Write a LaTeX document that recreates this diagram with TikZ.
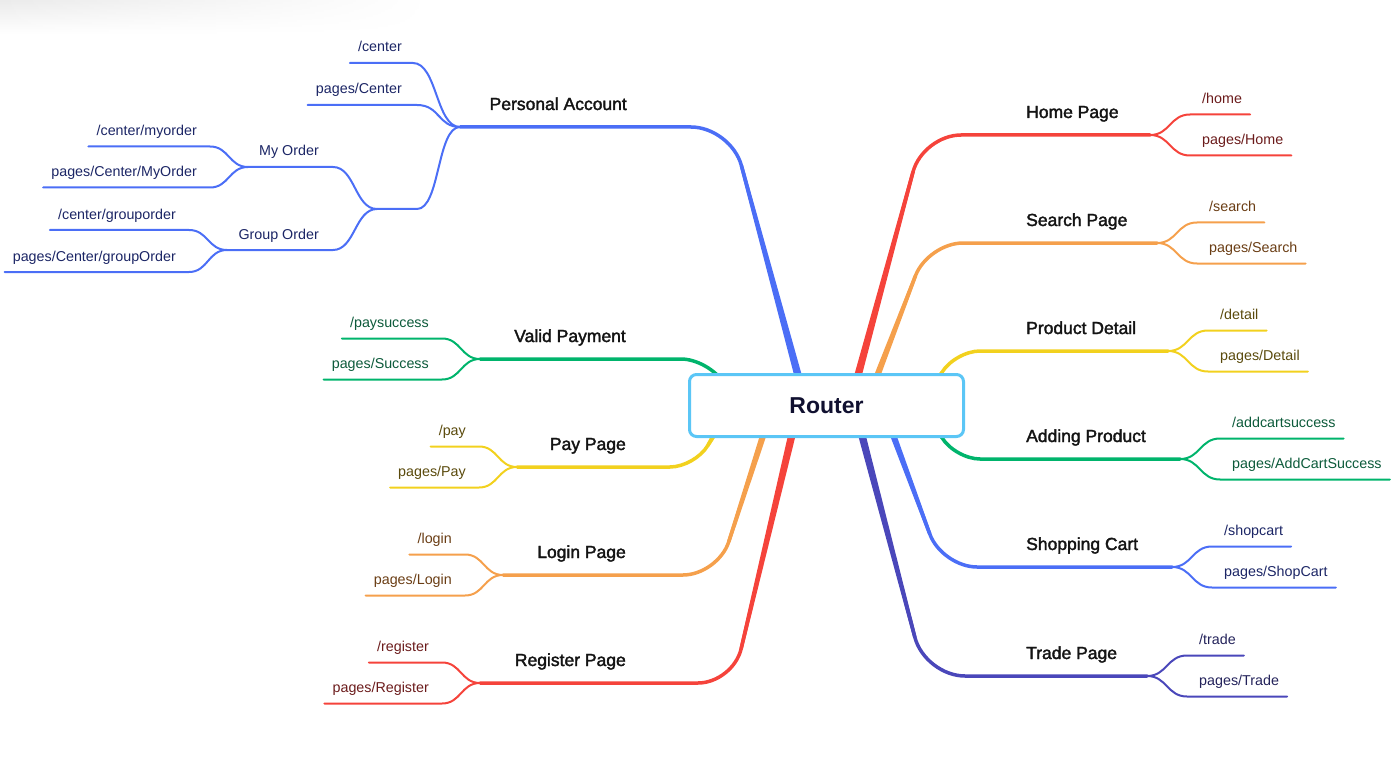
\documentclass[tikz,border=0pt]{standalone}
\usepackage{fontspec}
\setmainfont{Liberation Sans}
\newfontfamily\labelfont[FakeBold=2]{Liberation Sans}
\usetikzlibrary{calc,backgrounds,fadings}

\definecolor{cBlue}{HTML}{4B6EF6}
\definecolor{cGreen}{HTML}{00B46C}
\definecolor{cYellow}{HTML}{F2D11E}
\definecolor{cOrange}{HTML}{F5A04C}
\definecolor{cRed}{HTML}{F5433B}
\definecolor{cIndigo}{HTML}{4A47BA}
\definecolor{cRoot}{HTML}{5BC6F6}
\definecolor{tBlue}{HTML}{1B2565}
\definecolor{tGreen}{HTML}{0C5A3A}
\definecolor{tYellow}{HTML}{5A4A0C}
\definecolor{tOrange}{HTML}{6A3D14}
\definecolor{tRed}{HTML}{6B1B1B}
\definecolor{tIndigo}{HTML}{23225A}
\definecolor{tLabel}{HTML}{141414}
\definecolor{tRoot}{HTML}{101030}

% main branch: name, colour, start (inside root), corner, junction, radius, start half width
\newcommand\mainbranch[7]{%
  \coordinate (#1-s) at (#3);
  \coordinate (#1-c) at (#4);
  \coordinate (#1) at (#5);
  \coordinate (#1-t) at ($(#1-c)!#6!(#1-s)$);
  \draw[mainline, #2, rounded corners=#6] (#1-s) -- (#1-c) -- (#1);
  \fill[#2] ($(#1-s)!#7!90:(#1-t)$) -- ($(#1-t)!1.75pt!-90:(#1-s)$)
    -- ($(#1-t)!1.75pt!90:(#1-s)$) -- ($(#1-s)!#7!-90:(#1-t)$) -- cycle;
}
% right leaf: name, line colour, text colour, junction, dy, text
\newcommand\rleaf[6]{%
  \coordinate (#1-a) at ($(#4)+(40,#5)$);
  \node[leaftext, text=#3, anchor=base west] (#1) at ($(#1-a)+(12,-11)$) {#6};
  \draw[leafline, #2] (#4) .. controls ($(#4)+(20,0)$) and ($(#4)+(20,#5)$) .. (#1-a)
    -- ($(#1.base east)+(8,11)$);
}
% left leaf
\newcommand\lleaf[6]{%
  \coordinate (#1-a) at ($(#4)+(-38,#5)$);
  \node[leaftext, text=#3, anchor=base east] (#1) at ($(#1-a)+(-13,-11)$) {#6};
  \draw[leafline, #2] (#4) .. controls ($(#4)+(-19,0)$) and ($(#4)+(-19,#5)$) .. (#1-a)
    -- ($(#1.base west)+(-8,11)$);
}

\begin{document}
\begin{tikzpicture}[x=1pt,y=-1pt,
  blabel/.style={font=\labelfont\fontsize{17.5}{20}\selectfont, text=tLabel, inner sep=0pt},
  leaftext/.style={font=\fontsize{14.3}{16}\selectfont, inner sep=0pt},
  leafline/.style={line width=2pt, line cap=round},
  mainline/.style={line width=3.5pt, line cap=round},
  rootbox/.style={draw=cRoot, line width=3pt, rounded corners=7pt, fill=white,
    minimum width=274pt, minimum height=62pt, inner sep=0pt,
    font=\bfseries\fontsize{23}{26}\selectfont, text=tRoot}]
\useasboundingbox (0,0) rectangle (1400,778);
\shade[top color=black!8, bottom color=white, path fading=east] (0,0) rectangle (430,34);

\node[rootbox] (root) at (826.5,405.5) {Router};

% ---------- labels ----------
\node[blabel, anchor=base east] (lPA) at (627,110) {Personal Account};
\node[blabel, anchor=base east] (lVP) at (626,342) {Valid Payment};
\node[blabel, anchor=base east] (lPay) at (626,450) {Pay Page};
\node[blabel, anchor=base east] (lLog) at (626,558) {Login Page};
\node[blabel, anchor=base east] (lReg) at (626,666) {Register Page};
\node[blabel, anchor=base west] (lHome) at (1026,118) {Home Page};
\node[blabel, anchor=base west] (lSea) at (1026,226) {Search Page};
\node[blabel, anchor=base west] (lPro) at (1026,334) {Product Detail};
\node[blabel, anchor=base west] (lAdd) at (1026,442) {Adding Product};
\node[blabel, anchor=base west] (lShop) at (1026,550) {Shopping Cart};
\node[blabel, anchor=base west] (lTra) at (1026,659) {Trade Page};

\begin{pgfonlayer}{background}
% ---------- main branches ----------
\mainbranch{jPA}{cBlue}{806,405}{731,127}{460,127}{40pt}{4pt}
\mainbranch{jVP}{cGreen}{737,405}{709,359}{480,359}{28pt}{3pt}
\mainbranch{jPay}{cYellow}{723,420}{695,467}{517,467}{25pt}{3pt}
\mainbranch{jLog}{cOrange}{773,405}{718,575}{503,575}{35pt}{3.5pt}
\mainbranch{jReg}{cRed}{799,405}{733,683}{480,683}{35pt}{4pt}
\mainbranch{jHome}{cRed}{850,405}{923,135}{1150,135}{38pt}{4pt}
\mainbranch{jSea}{cOrange}{866,405}{928,243}{1157,243}{35pt}{3.5pt}
\mainbranch{jPro}{cYellow}{925,400}{955,351}{1168,351}{25pt}{3pt}
\mainbranch{jAdd}{cGreen}{925,410}{955,459}{1180,459}{25pt}{3pt}
\mainbranch{jShop}{cBlue}{882,405}{942,567}{1172,567}{35pt}{3.5pt}
\mainbranch{jTra}{cIndigo}{854,405}{925,676}{1147,676}{40pt}{4pt}
\end{pgfonlayer}

% ---------- right leaves ----------
\rleaf{home1}{cRed}{tRed}{jHome}{-20.5}{/home}
\rleaf{home2}{cRed}{tRed}{jHome}{20.5}{pages/Home}
\rleaf{sea1}{cOrange}{tOrange}{jSea}{-20.5}{/search}
\rleaf{sea2}{cOrange}{tOrange}{jSea}{20.5}{pages/Search}
\rleaf{pro1}{cYellow}{tYellow}{jPro}{-20.5}{/detail}
\rleaf{pro2}{cYellow}{tYellow}{jPro}{20.5}{pages/Detail}
\rleaf{add1}{cGreen}{tGreen}{jAdd}{-20.5}{/addcartsuccess}
\rleaf{add2}{cGreen}{tGreen}{jAdd}{20.5}{pages/AddCartSuccess}
\rleaf{shop1}{cBlue}{tBlue}{jShop}{-20.5}{/shopcart}
\rleaf{shop2}{cBlue}{tBlue}{jShop}{20.5}{pages/ShopCart}
\rleaf{tra1}{cIndigo}{tIndigo}{jTra}{-20.5}{/trade}
\rleaf{tra2}{cIndigo}{tIndigo}{jTra}{20.5}{pages/Trade}

% ---------- left leaves ----------
\lleaf{vp1}{cGreen}{tGreen}{jVP}{-20.5}{/paysuccess}
\lleaf{vp2}{cGreen}{tGreen}{jVP}{20.5}{pages/Success}
\lleaf{pay1}{cYellow}{tYellow}{jPay}{-20.5}{/pay}
\lleaf{pay2}{cYellow}{tYellow}{jPay}{20.5}{pages/Pay}
\lleaf{log1}{cOrange}{tOrange}{jLog}{-20.5}{/login}
\lleaf{log2}{cOrange}{tOrange}{jLog}{20.5}{pages/Login}
\lleaf{reg1}{cRed}{tRed}{jReg}{-20.5}{/register}
\lleaf{reg2}{cRed}{tRed}{jReg}{20.5}{pages/Register}

% ---------- Personal Account subtree ----------
\coordinate (pcA) at (413,63);
\node[leaftext, text=tBlue, anchor=base east] (pc1) at (402,52) {/center};
\draw[leafline, cBlue] (jPA) .. controls (436,127) and (437,63) .. (pcA) -- ($(pc1.base west)+(-8,11)$);
\coordinate (pcB) at (417,105);
\node[leaftext, text=tBlue, anchor=base east] (pc2) at (402,94) {pages/Center};
\draw[leafline, cBlue] (jPA) .. controls (438,127) and (440,105) .. (pcB) -- ($(pc2.base west)+(-8,11)$);

\coordinate (hidR) at (417,209);
\coordinate (hidL) at (377,209);
\draw[leafline, cBlue] (jPA) .. controls (437,127) and (440,209) .. (hidR) -- (hidL);

\coordinate (moR) at (333,167);
\coordinate (jMO) at (248,167);
\draw[leafline, cBlue] (hidL) .. controls (355,209) and (355,167) .. (moR) -- (jMO);
\node[leaftext, text=tBlue, anchor=base east] (lMO) at (319,156) {My Order};

\coordinate (goR) at (333,250);
\coordinate (jGO) at (227,250);
\draw[leafline, cBlue] (hidL) .. controls (355,209) and (355,250) .. (goR) -- (jGO);
\node[leaftext, text=tBlue, anchor=base east] (lGO) at (319,240) {Group Order};

\lleaf{mo1}{cBlue}{tBlue}{jMO}{-20.5}{/center/myorder}
\lleaf{mo2}{cBlue}{tBlue}{jMO}{20.5}{pages/Center/MyOrder}
\lleaf{go1}{cBlue}{tBlue}{jGO}{-20}{/center/grouporder}
\lleaf{go2}{cBlue}{tBlue}{jGO}{22}{pages/Center/groupOrder}
\end{tikzpicture}
\end{document}
